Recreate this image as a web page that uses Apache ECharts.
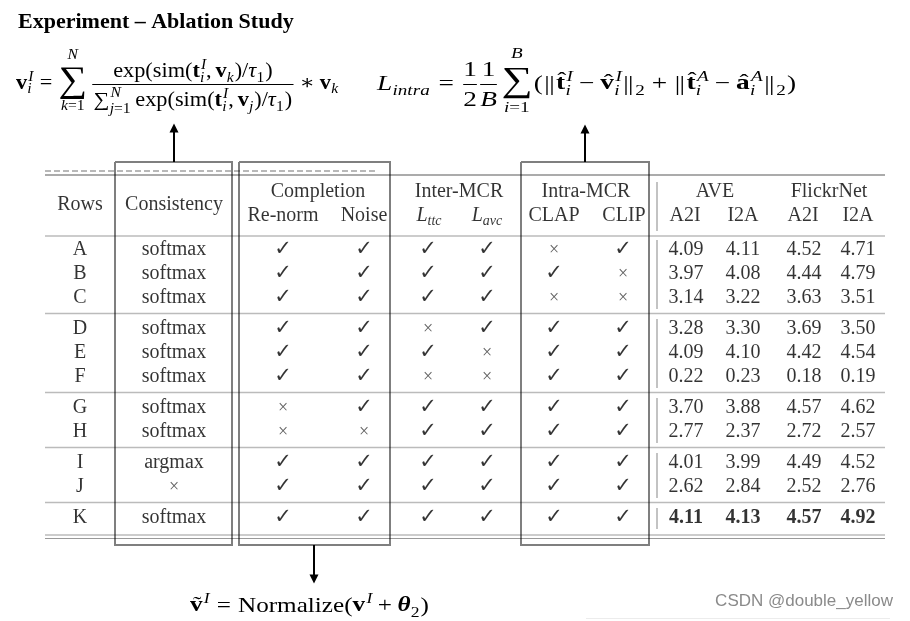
<!DOCTYPE html>
<html><head><meta charset="utf-8">
<script src="https://cdn.jsdelivr.net/npm/echarts/dist/echarts.min.js"></script>
<style>html,body{margin:0;padding:0;background:#fff}#c{width:910px;height:621px}</style>
</head><body><div id="c"></div>
<script>
// ---------------- data ----------------
const title = 'Experiment \u2013 Ablation Study';
const rows = ['A','B','C','D','E','F','G','H','I','J','K'];
const rowGroup = [0,0,0,1,1,1,2,2,3,3,4];
const consistency = ['softmax','softmax','softmax','softmax','softmax','softmax','softmax','softmax','argmax','\u00d7','softmax'];
const renorm = [1,1,1,1,1,1,0,0,1,1,1];
const noise  = [1,1,1,1,1,1,1,0,1,1,1];
const lttc   = [1,1,1,0,1,0,1,1,1,1,1];
const lavc   = [1,1,1,1,0,0,1,1,1,1,1];
const clap   = [0,1,0,1,1,1,1,1,1,1,1];
const clip   = [1,0,0,1,1,1,1,1,1,1,1];
const aveA2I = [4.09,3.97,3.14,3.28,4.09,0.22,3.70,2.77,4.01,2.62,4.11];
const aveI2A = [4.11,4.08,3.22,3.30,4.10,0.23,3.88,2.37,3.99,2.84,4.13];
const flkA2I = [4.52,4.44,3.63,3.69,4.42,0.18,4.57,2.72,4.49,2.52,4.57];
const flkI2A = [4.71,4.79,3.51,3.50,4.54,0.19,4.62,2.57,4.52,2.76,4.92];
const boldRow = 'K';
const headTop = ['Rows','Consistency','Completion','Inter-MCR','Intra-MCR','AVE','FlickrNet'];
const headSub = ['Re-norm','Noise','L|ttc','L|avc','CLAP','CLIP','A2I','I2A','A2I','I2A'];
const watermark = 'CSDN @double_yellow';

// ---------------- layout ----------------
const SERIF = '"Liberation Serif", "DejaVu Serif", serif';
const colX = [80,174,283,364,428,487,554,623,686,743,804,858];
const headTopX = [80,174,318,459,586,715,829];
const headSubX = [283,364,429,487,554,624,685,743,803,858];
const rowY = rows.map((r,i)=>250 + i*24 + rowGroup[i]*7);
const tableL = 45, tableR = 885;

function cell(x,y,t){ return {value:[x,y], name:String(t)}; }
const txtCells=[], checkCells=[], crossCells=[], numCells=[], boldCells=[], headCells=[], mathHead=[];
rows.forEach((r,i)=>{
  txtCells.push(cell(colX[0], rowY[i], r));
  if (consistency[i]==='\u00d7') crossCells.push(cell(colX[1], rowY[i], '\u00d7'));
  else txtCells.push(cell(colX[1], rowY[i], consistency[i]));
  [renorm,noise,lttc,lavc,clap,clip].forEach((a,j)=>{
    (a[i]?checkCells:crossCells).push(cell(colX[2+j], rowY[i], a[i]?'\u2713':'\u00d7'));
  });
  [aveA2I,aveI2A,flkA2I,flkI2A].forEach((a,j)=>{
    (r===boldRow?boldCells:numCells).push(cell(colX[8+j], rowY[i], a[i].toFixed(2)));
  });
});
headTop.forEach((t,j)=>headCells.push(cell(headTopX[j], j<2?205:192, t)));
headSub.forEach((t,j)=>{
  if (t.indexOf('|')>=0){ const p=t.split('|'); mathHead.push({value:[headSubX[j],216], name:'{L|'+p[0]+'}{s|'+p[1]+'}'}); }
  else headCells.push(cell(headSubX[j],216,t));
});

function labelSeries(data, lbl){
  return {type:'scatter', data, symbolSize:1, itemStyle:{color:'rgba(0,0,0,0)'}, silent:true, z:5,
    label:Object.assign({show:true, position:'inside', formatter:'{b}', color:'#000', fontFamily:SERIF, fontSize:20}, lbl)};
}
function linesSeries(segs, style, extra){
  return Object.assign({type:'lines', coordinateSystem:'cartesian2d', polyline:true, silent:true, z:3,
    data:segs.map(c=>({coords:c})), lineStyle:style}, extra||{});
}

const groupRules = [];
for (let i=0;i<rows.length-1;i++) if (rowGroup[i]!==rowGroup[i+1]) groupRules.push((rowY[i]+rowY[i+1])/2);
const vSegs = [[[657,182],[657,231]]];
[0,1,2,3,4].forEach(g=>{
  const idx = rows.map((r,i)=>i).filter(i=>rowGroup[i]===g);
  vSegs.push([[657,rowY[idx[0]]-10],[657,rowY[idx[idx.length-1]]+11]]);
});
function rect(x1,y1,x2,y2){ return [[x1,y1],[x2,y1],[x2,y2],[x1,y2],[x1,y1]]; }

// ---------------- math engine ----------------
const mc = document.createElement('canvas').getContext('2d');
function fontOf(st, sz, fam){ return (st.indexOf('i')>=0?'italic ':'') + (st.indexOf('b')>=0?'bold ':'') + sz.toFixed(2)+'px ' + (fam||SERIF); }
const GFX = [];
let CUR = GFX;
function putText(s,x,base,st,sz,fam){
  CUR.push({type:'text', silent:true, x:x, y:base-0.33*sz, style:{text:s, fontFamily:fam||SERIF, fontSize:sz,
    fontStyle:st.indexOf('i')>=0?'italic':'normal', fontWeight:st.indexOf('b')>=0?'bold':'normal', fill:'#000', align:'left', verticalAlign:'middle'}});
}
const T = (s, st, fam) => sz => { st=st||'r'; mc.font=fontOf(st,sz,fam); const w=mc.measureText(s).width; return {w, draw:(x,b)=>putText(s,x,b,st,sz,fam)}; };
const SP = em => sz => ({w:em*sz, draw:()=>{}});
const H = (...ns) => sz => { const bs=ns.map(n=>n(sz)); const w=bs.reduce((a,c)=>a+c.w,0);
  return {w, draw:(x,b)=>{ let cx=x; bs.forEach(c=>{c.draw(cx,b); cx+=c.w;}); }}; };
const SS = (base, sub, sup, o) => sz => { o=o||{}; const B=base(sz), k=o.k||0.7;
  const s1=sub?sub(sz*k):null, s2=sup?sup(sz*k):null;
  const w=B.w+Math.max(s1?s1.w:0, s2?s2.w:0)+0.05*sz;
  return {w, draw:(x,b)=>{ B.draw(x,b); if(s1) s1.draw(x+B.w+0.01*sz, b+(o.sub||0.22)*sz); if(s2) s2.draw(x+B.w+0.05*sz, b-(o.sup||0.42)*sz); }}; };
const FR = (num, den, o) => sz => { o=o||{}; const N=num(sz), D=den(sz), pad=(o.pad||0.12)*sz; const w=Math.max(N.w,D.w)+2*pad;
  return {w, draw:(x,b)=>{ const ax=Math.round(b-0.3*sz)+0.5;
    CUR.push({type:'line', silent:true, shape:{x1:x+0.06*sz,y1:ax,x2:x+w-0.06*sz,y2:ax}, style:{stroke:'#000', lineWidth:1}});
    N.draw(x+(w-N.w)/2, ax-(o.nd||0.32)*sz); D.draw(x+(w-D.w)/2, ax+(o.dd||1.05)*sz); }}; };
const OP = (lo, hi, o) => sz => { o=o||{}; const osz=sz*(o.k||1.85); mc.font=fontOf('r',osz); const ow=mc.measureText('\u2211').width;
  const L=lo(sz*0.7), U=hi(sz*0.7); const w=Math.max(ow,L.w,U.w);
  return {w, draw:(x,b)=>{ const ax=b-0.3*sz;
    CUR.push({type:'text', silent:true, x:x+(w-ow)/2, y:ax-(o.dy||0.08)*osz, style:{text:'\u2211', fontFamily:SERIF, fontSize:osz, fill:'#000', align:'left', verticalAlign:'middle'}});
    U.draw(x+(w-U.w)/2, ax-(o.hi||1.22)*sz); L.draw(x+(w-L.w)/2, ax+(o.lo||1.35)*sz); }}; };
const HAT = (base, lift, ch) => sz => { const B=base(sz); ch=ch||'\u02c6'; mc.font=fontOf('r',sz); const hw=mc.measureText(ch).width;
  return {w:B.w, draw:(x,b)=>{ B.draw(x,b); putText(ch, x+(B.w-hw)/2+0.04*sz, b-(lift||0)*sz, 'r', sz); }}; };
const NORM = () => H(SP(0.05), T('|'), SP(-0.02), T('|'), SP(0.05));

const eq = () => H(SP(0.28), T('='), SP(0.28));
const bin = c => H(SP(0.22), T(c), SP(0.22));
const tI = () => SS(T('t','b'), T('i','i'), T('I','i'));
const vI = () => SS(T('v','b'), T('i','i'), T('I','i'));
const sub1 = (n,s) => SS(T(n,'i'), T(s));

const F1 = H(vI(), eq(), OP(H(T('k','i'),T('='),T('1')), T('N','i'), {k:1.8}), SP(0.17),
  FR(H(T('exp(sim('), tI(), T(','), SP(0.17), SS(T('v','b'),T('k','i')), T(')/'), sub1('\u03c4','1'), T(')')),
     H(SS(T('\u2211'), H(T('j','i'),T('='),T('1')), T('N','i'), {sub:0.3, sup:0.5}), SP(0.17), T('exp(sim('), tI(), T(','), SP(0.17), SS(T('v','b'),T('j','i')), T(')/'), sub1('\u03c4','1'), T(')')),
     {nd:0.3, dd:1.15}),
  bin('\u2217'), SS(T('v','b'), T('k','i')));

const F2 = H(SS(T('L','i'), T('intra','i')), eq(), FR(T('1'),T('2'),{pad:0.06}), FR(T('1'),T('B','i'),{pad:0.06}), SP(0.1),
  OP(H(T('i','i'),T('='),T('1')), T('B','i'), {k:1.6, hi:1.15, lo:1.3}), SP(0.05),
  T('('), NORM(), SS(HAT(T('t','b'),0.1), T('i','i'), T('I','i')), bin('\u2212'), SS(HAT(T('v','b'),0.02), T('i','i'), T('I','i')), SS(NORM(), T('2')),
  bin('+'), NORM(), SS(HAT(T('t','b'),0.1), T('i','i'), T('A','i')), bin('\u2212'), SS(HAT(T('a','b'),0.02), T('i','i'), T('A','i')), SS(NORM(), T('2')), T(')'));

const F3 = H(SS(HAT(T('v','b'),0.02,'\u02dc'), null, T('I','i')), eq(), T('Normalize('), SS(T('v','b'), null, T('I','i')), bin('+'), SS(T('\u03b8','bi'), T('2')), T(')'));

function placeFormula(F, sz, x0, x1, base){
  CUR = [];
  const box = F(sz); box.draw(0, base);
  GFX.push({type:'group', x:x0, y:0, scaleX:(x1-x0)/box.w, children:CUR});
  CUR = GFX;
}
placeFormula(F1, 20, 16, 339, 90);
placeFormula(F2, 22, 377, 796, 91);
placeFormula(F3, 22, 190, 429, 613);

GFX.push({type:'text', silent:true, x:18, y:22, style:{text:title, fontFamily:SERIF, fontSize:22, fontWeight:'bold', fill:'#000', align:'left', verticalAlign:'middle'}});
GFX.push({type:'text', silent:true, x:893, y:601, style:{text:watermark, fontFamily:'"Liberation Sans", Arial, sans-serif', fontSize:17, fill:'#8a8a8a', align:'right', verticalAlign:'middle'}});
GFX.push({type:'line', silent:true, shape:{x1:586,y1:618.5,x2:890,y2:618.5}, style:{stroke:'#ececec', lineWidth:1}});

// ---------------- chart ----------------
const chart = echarts.init(document.getElementById('c'), null, {renderer:'canvas'});
chart.setOption({
  animation:false,
  backgroundColor:'#fff',
  grid:{left:0,right:0,top:0,bottom:0},
  xAxis:{type:'value', min:0, max:910, show:false},
  yAxis:{type:'value', min:0, max:621, inverse:true, show:false},
  graphic:GFX,
  series:[
    linesSeries([[[45,171],[375,171]]], {color:'#444', width:1.5, type:[6,3]}),
    linesSeries([[[tableL,175],[tableR,175]]], {color:'#222', width:1.5}),
    linesSeries([[[tableL,236],[tableR,236]]].concat(groupRules.map(y=>[[tableL,y],[tableR,y]])), {color:'#777', width:1.5}),
    linesSeries([[[tableL,535],[tableR,535]],[[tableL,538.5],[tableR,538.5]]], {color:'#333', width:1.2}),
    linesSeries(vSegs, {color:'#888', width:2}),
    linesSeries([rect(115,162,232,545), rect(239,162,390,545), rect(521,162,649,545)], {color:'#000', width:2}, {z:6}),
    {type:'lines', coordinateSystem:'cartesian2d', silent:true, z:6, symbol:['none','triangle'], symbolSize:9,
      lineStyle:{color:'#000', width:2, opacity:1}, itemStyle:{color:'#000'},
      data:[{coords:[[174,162],[174,128]]},{coords:[[585,162],[585,129]]},{coords:[[314,545],[314,579]]}]},
    labelSeries(headCells, {}),
    labelSeries(mathHead, {rich:{L:{fontFamily:SERIF, fontStyle:'italic', fontSize:20, lineHeight:24}, s:{fontFamily:SERIF, fontStyle:'italic', fontSize:14, lineHeight:12, verticalAlign:'bottom'}}}),
    labelSeries(txtCells, {}),
    labelSeries(numCells, {}),
    labelSeries(boldCells, {fontWeight:'bold'}),
    labelSeries(checkCells, {fontFamily:'"DejaVu Sans", sans-serif', fontSize:21}),
    labelSeries(crossCells, {fontSize:18, color:'#333'})
  ]
});
</script>
</body></html>
